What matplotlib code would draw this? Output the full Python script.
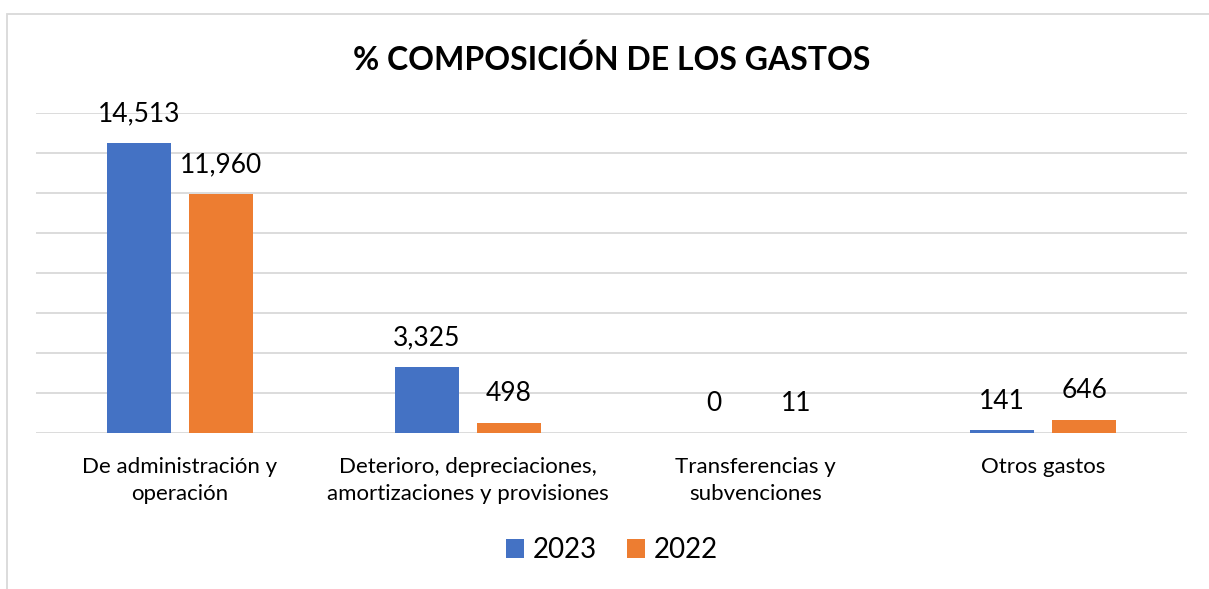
import numpy as np
import matplotlib
matplotlib.use("Agg")
import matplotlib.pyplot as plt
from matplotlib.patches import Rectangle

categories = ["De administración y\noperación",
              "Deterioro, depreciaciones,\namortizaciones y provisiones",
              "Transferencias y\nsubvenciones",
              "Otros gastos"]
years = ["2023", "2022"]
vals_2023 = [14513, 3325, 0, 141]
vals_2022 = [11960, 498, 11, 646]
colors = ["#4472C4", "#ED7D31"]

plt.rcParams["font.family"] = ["Lato", "DejaVu Sans"]

fig = plt.figure(figsize=(12.09, 5.89), dpi=100)
W, H = 1209, 589

# chart border (cropped on right and bottom)
fig.patches.append(Rectangle((7 / W, -0.1), 1.2, 1 - 14 / H + 0.1,
                             transform=fig.transFigure, fill=False,
                             edgecolor="#D9D9D9", linewidth=1.3))

ax = fig.add_axes([36 / W, 1 - 433 / H, (1187 - 36) / W, (433 - 113) / H])
x = np.arange(len(categories))
bw = 0.222
off = 0.1425
for i, (vals, c, lab) in enumerate(zip([vals_2023, vals_2022], colors, years)):
    pos = x + (off if i else -off)
    ax.bar(pos, vals, width=bw, color=c, label=lab, zorder=3)
    for xp, v in zip(pos, vals):
        ax.annotate(f"{v:,}", (xp, v), xytext=(0, 21), textcoords="offset points",
                    ha="center", va="center", fontsize=19, color="#000000")

ax.set_xlim(-0.5, len(categories) - 0.5)
ax.set_ylim(0, 16000)
ax.set_yticks(np.arange(0, 16001, 2000))
ax.yaxis.grid(True, color="#D9D9D9", linewidth=1.3, zorder=0)
ax.tick_params(axis="y", length=0, labelleft=False)
ax.set_xticks(x)
ax.set_xticklabels(categories, fontsize=16, linespacing=1.47)
ax.tick_params(axis="x", length=0, pad=17)
for s in ax.spines.values():
    s.set_visible(False)

fig.text(612 / W, 1 - 60 / H, "% COMPOSICIÓN DE LOS GASTOS", ha="center", va="center",
         fontsize=23, fontweight="bold")

fig.legend(loc="center", bbox_to_anchor=(612 / W, 1 - 550 / H), ncol=2, frameon=False,
           fontsize=20, handlelength=0.65, handleheight=0.65, handletextpad=0.3,
           columnspacing=1.1)

fig.savefig("out.png", dpi=100)
